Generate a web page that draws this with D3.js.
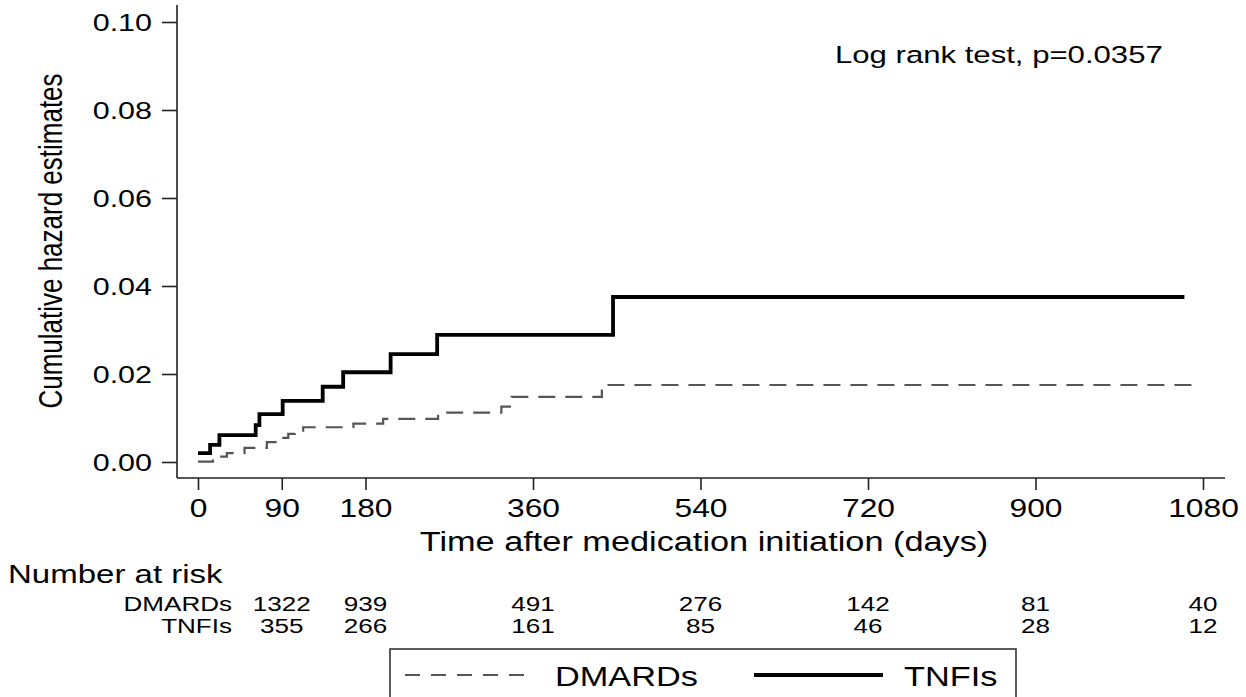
<!DOCTYPE html>
<html lang="en">
<head>
<meta charset="UTF-8" />
<title>Cumulative hazard</title>
<script src="https://cdn.jsdelivr.net/npm/d3@7"></script>
<style>
  body { margin: 0; background: #fff; }
  text { font-family: "Liberation Sans", Arial, sans-serif; fill: #000; }
</style>
</head>
<body>
<script>
// step data (days, cumulative hazard)
var tnfiDays = [0, 13, 23, 62, 66, 91, 134, 156, 207, 257, 446, 1060];
var tnfiHaz  = [0.002, 0.0039, 0.0061, 0.0084, 0.0109, 0.0139, 0.0171, 0.0204, 0.0245, 0.0289, 0.0375, 0.0375];

var dmardDays = [0, 16, 31, 50, 74, 85, 97, 104, 113, 167, 199, 258, 326, 337, 434, 1073];
var dmardHaz  = [0.0001, 0.0012, 0.002, 0.0032, 0.0045, 0.0055, 0.0064, 0.0071, 0.0079, 0.0087, 0.0098, 0.0112, 0.0126, 0.0148, 0.0175, 0.0175];

var xTicks = [0, 90, 180, 360, 540, 720, 900, 1080];
var yTicks = [0, 0.02, 0.04, 0.06, 0.08, 0.10];

var riskDays  = [90, 180, 360, 540, 720, 900, 1080];
var dmardRisk = [1322, 939, 491, 276, 142, 81, 40];
var tnfiRisk  = [355, 266, 161, 85, 46, 28, 12];

var width = 1246, height = 697;
var SX = 1.27; // text in the picture is stretched sideways

var svg = d3.select("body").append("svg")
  .attr("width", width)
  .attr("height", height);

var x = d3.scaleLinear().domain([0, 1080]).range([198, 1203]);
var y = d3.scaleLinear().domain([0, 0.1]).range([462, 22]);

function label(g, px, py, str, size, anchor) {
  return g.append("text")
    .attr("transform", "translate(" + px + "," + py + ") scale(" + SX + ",1)")
    .attr("text-anchor", anchor || "start")
    .style("font-size", size + "px")
    .text(str);
}

// frame lines
var axisX = 177, axisY = 478;
svg.append("line").attr("x1", axisX).attr("x2", axisX).attr("y1", 5).attr("y2", axisY)
  .attr("stroke", "#222").attr("stroke-width", 1.6);
svg.append("line").attr("x1", axisX).attr("x2", 1225).attr("y1", axisY).attr("y2", axisY)
  .attr("stroke", "#222").attr("stroke-width", 1.6);

// y axis
var yAxis = d3.axisLeft(y).tickValues(yTicks).tickSize(15).tickFormat(d3.format(".2f"));
var gy = svg.append("g").attr("transform", "translate(" + axisX + ",0)").call(yAxis);
gy.select(".domain").remove();
gy.selectAll(".tick line").attr("stroke", "#222").attr("stroke-width", 1.6);
gy.selectAll(".tick text")
  .attr("x", null).attr("dy", null)
  .attr("transform", "translate(-25,8.5) scale(" + SX + ",1)")
  .style("font-size", "24px")
  .attr("font-family", null);

// x axis
var xAxis = d3.axisBottom(x).tickValues(xTicks).tickSize(12).tickFormat(d3.format("d"));
var gx = svg.append("g").attr("transform", "translate(0," + axisY + ")").call(xAxis);
gx.select(".domain").remove();
gx.selectAll(".tick line").attr("stroke", "#222").attr("stroke-width", 1.6);
gx.selectAll(".tick text")
  .attr("y", null).attr("dy", null)
  .attr("transform", "translate(0,39) scale(" + SX + ",1)")
  .style("font-size", "25px")
  .attr("font-family", null);

// axis titles
label(svg, 704, 551, "Time after medication initiation (days)", 27, "middle");
svg.append("text")
  .attr("transform", "translate(62,241) scale(" + SX + ",1) rotate(-90)")
  .attr("text-anchor", "middle")
  .style("font-size", "26px")
  .text("Cumulative hazard estimates");

label(svg, 835, 63, "Log rank test, p=0.0357", 24.5, "start");

// curves
var line = d3.line()
  .x(function(d) { return x(d[0]); })
  .y(function(d) { return y(d[1]); })
  .curve(d3.curveStepAfter);

svg.append("path")
  .datum(d3.zip(dmardDays, dmardHaz))
  .attr("d", line)
  .attr("fill", "none")
  .attr("stroke", "#555")
  .attr("stroke-width", 2.2)
  .attr("stroke-dasharray", "17,10");

svg.append("path")
  .datum(d3.zip(tnfiDays, tnfiHaz))
  .attr("d", line)
  .attr("fill", "none")
  .attr("stroke", "#000")
  .attr("stroke-width", 3.8);

// number at risk table
label(svg, 8, 583, "Number at risk", 26, "start");
label(svg, 232, 611, "DMARDs", 20.5, "end");
label(svg, 232, 633, "TNFIs", 20.5, "end");
riskDays.forEach(function(d, i) {
  label(svg, x(d), 611, dmardRisk[i], 20.5, "middle");
  label(svg, x(d), 633, tnfiRisk[i], 20.5, "middle");
});

// legend
var leg = svg.append("g");
leg.append("rect")
  .attr("x", 390).attr("y", 649).attr("width", 626).attr("height", 70)
  .attr("fill", "none").attr("stroke", "#333").attr("stroke-width", 1.6);
leg.append("line").attr("x1", 405).attr("x2", 535).attr("y1", 675).attr("y2", 675)
  .attr("stroke", "#555").attr("stroke-width", 2.2).attr("stroke-dasharray", "15,11");
label(leg, 555, 686, "DMARDs", 27, "start");
leg.append("line").attr("x1", 754).attr("x2", 883).attr("y1", 675).attr("y2", 675)
  .attr("stroke", "#000").attr("stroke-width", 3.8);
label(leg, 904, 686, "TNFIs", 27, "start");
</script>
</body>
</html>
